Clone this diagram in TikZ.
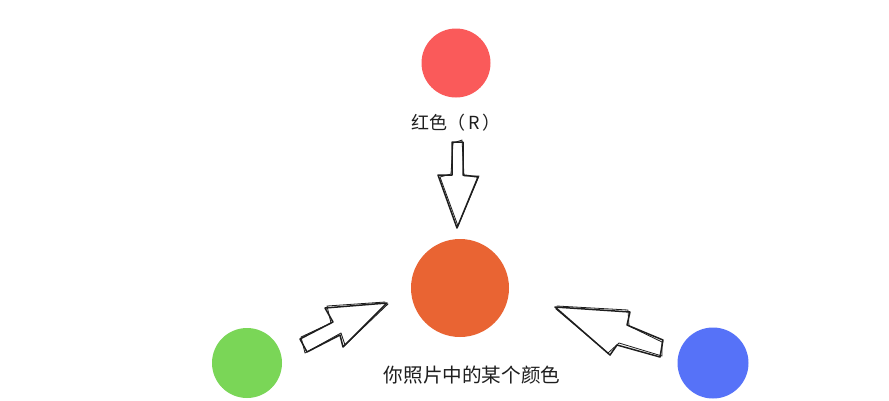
\documentclass[tikz,border=0pt]{standalone}
\usepackage{fontspec}
\newfontfamily\cjk{Noto Sans CJK SC}
\definecolor{cred}{HTML}{FA5A5A}
\definecolor{corange}{HTML}{E96433}
\definecolor{cgreen}{HTML}{7AD657}
\definecolor{cblue}{HTML}{5672F8}
\definecolor{ink}{HTML}{1E1E1E}
\tikzset{
  dot/.style={circle,inner sep=0pt,draw=none},
  lbl/.style={text=ink,font=\cjk\fontsize{18}{20}\selectfont,inner sep=0pt},
  sketch/.style={draw=ink,line width=1.5pt,line join=round,line cap=round},
  sketch2/.style={draw=ink,line width=0.8pt,line join=round,line cap=round}
}
\begin{document}
\begin{tikzpicture}[x=1pt,y=-1pt]
\useasboundingbox[fill=white] (0,0) rectangle (889,400);
% circles
\node[dot,fill=cred,minimum size=69pt] (r) at (456,63) {};
\node[dot,fill=corange,minimum size=98pt] (o) at (460,288) {};
\node[dot,fill=cgreen,minimum size=70pt] (g) at (247,363) {};
\node[dot,fill=cblue,minimum size=71pt] (b) at (713,363) {};
% labels
\node[lbl] (rl) at (456,123) {红色（\hspace{3pt}R\hspace{3pt}）};
\node[lbl,font=\cjk\fontsize{19.6}{21}\selectfont] (ol) at (472,375) {你照片中的某个颜色};
% down arrow
\draw[sketch] (452,142) -- (463,142) -- (463,175) -- (478,177) -- (457,228) -- (438,175) -- (452,175) -- cycle;
\draw[sketch2] (453,143) -- (462,140) -- (464,176) -- (479,176) -- (458,226) -- (440,177) -- (451,174) -- cycle;
% left arrow
\draw[sketch] (387,303) -- (325,308) -- (333,322) -- (300,339) -- (307,352) -- (340,335) -- (343,347) -- cycle;
\draw[sketch2] (385,302) -- (327,306) -- (331,323) -- (301,337) -- (305,353) -- (341,333) -- (345,345) -- (388,304);
% right arrow
\draw[sketch] (555,307) -- (630,312) -- (627,325) -- (663,340) -- (660,357) -- (617,345) -- (610,355) -- cycle;
\draw[sketch2] (557,306) -- (628,310) -- (629,326) -- (662,342) -- (662,356) -- (619,343) -- (608,353) -- (556,309);
\end{tikzpicture}
\end{document}
